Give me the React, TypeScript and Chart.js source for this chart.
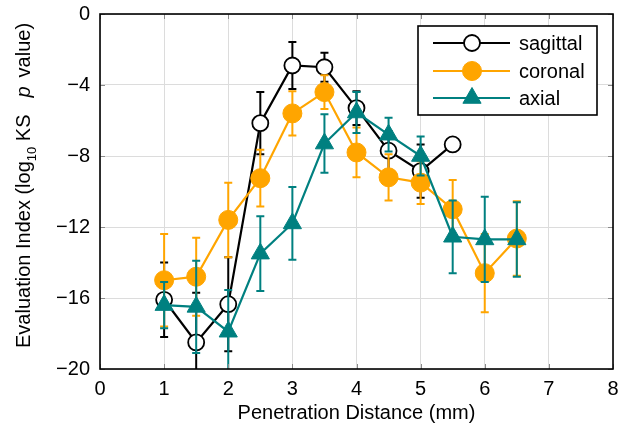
import React, { useEffect, useRef } from 'react';
import { Chart, registerables } from 'chart.js';

Chart.register(...registerables);

// ---- data ----
const distances = [1, 1.5, 2, 2.5, 3, 3.5, 4, 4.5, 5, 5.5, 6, 6.5];

const sagittalMean = [-16.1, -18.5, -16.35, -6.15, -2.9, -3.0, -5.3, -7.7, -8.85, -7.35];
const sagittalErr = [2.1, 2.8, 2.65, 1.75, 1.32, 0.82, 0.95, 1.1, 1.5, 0];

const coronalMean = [-15.0, -14.8, -11.6, -9.25, -5.6, -4.4, -7.8, -9.2, -9.5, -11.0, -14.6, -12.65];
const coronalErr = [2.6, 2.2, 2.1, 1.6, 1.25, 0.95, 1.4, 1.3, 1.2, 1.65, 2.2, 2.1];

const axialMean = [-16.4, -16.5, -17.9, -13.5, -11.8, -7.3, -5.55, -6.8, -8.0, -12.55, -12.7, -12.7];
const axialErr = [1.3, 2.6, 2.35, 2.1, 2.05, 1.65, 1.15, 0.95, 1.1, 2.05, 2.4, 2.1];

const seriesNames = ['sagittal', 'coronal', 'axial'];
const xTitle = 'Penetration Distance (mm)';
const xRange = [0, 8];
const yRange = [-20, 0];
const xStep = 1;
const yStep = 4;

const FONT = '"Liberation Sans", Arial, Helvetica, sans-serif';

const COLORS = ['#000000', '#FFA500', '#008080'];
const means = [sagittalMean, coronalMean, axialMean];
const errs = [sagittalErr, coronalErr, axialErr];

const pointCfg = [
  { style: 'circle', radius: 8, fill: '#ffffff', bw: 1.8 },
  { style: 'circle', radius: 9.5, fill: COLORS[1], bw: 1 },
  { style: 'triangle', radius: 10.5, fill: COLORS[2], bw: 1 },
];

function drawMarker(ctx: CanvasRenderingContext2D, i: number, x: number, y: number) {
  const c = pointCfg[i];
  ctx.save();
  ctx.beginPath();
  if (c.style === 'circle') {
    ctx.arc(x, y, c.radius, 0, Math.PI * 2);
  } else {
    const r = c.radius;
    let a = 0;
    ctx.moveTo(x + Math.sin(a) * r, y - Math.cos(a) * r);
    a += (2 * Math.PI) / 3;
    ctx.lineTo(x + Math.sin(a) * r, y - Math.cos(a) * r);
    a += (2 * Math.PI) / 3;
    ctx.lineTo(x + Math.sin(a) * r, y - Math.cos(a) * r);
    ctx.closePath();
  }
  ctx.fillStyle = c.fill;
  ctx.fill();
  ctx.lineWidth = c.bw;
  ctx.strokeStyle = COLORS[i];
  ctx.stroke();
  ctx.restore();
}

const errorBarPlugin = {
  id: 'errorBars',
  beforeDatasetDraw(chart: any, args: any) {
    const i = args.index;
    const e = errs[i];
    const m = means[i];
    const { ctx, chartArea } = chart;
    const xs = chart.scales.x;
    const ys = chart.scales.y;
    ctx.save();
    ctx.beginPath();
    ctx.rect(chartArea.left, chartArea.top, chartArea.right - chartArea.left, chartArea.bottom - chartArea.top);
    ctx.clip();
    ctx.strokeStyle = COLORS[i];
    ctx.lineWidth = 2;
    for (let k = 0; k < m.length; k++) {
      if (!e[k]) continue;
      const px = xs.getPixelForValue(distances[k]);
      const y1 = ys.getPixelForValue(m[k] + e[k]);
      const y2 = ys.getPixelForValue(m[k] - e[k]);
      ctx.beginPath();
      ctx.moveTo(px, y1);
      ctx.lineTo(px, y2);
      ctx.moveTo(px - 4, y1);
      ctx.lineTo(px + 4, y1);
      ctx.moveTo(px - 4, y2);
      ctx.lineTo(px + 4, y2);
      ctx.stroke();
    }
    ctx.restore();
  },
};

const framePlugin = {
  id: 'frame',
  afterDraw(chart: any) {
    const { ctx, chartArea } = chart;
    const { left, right, top, bottom } = chartArea;
    const xs = chart.scales.x;
    const ys = chart.scales.y;
    ctx.save();
    // inward ticks
    ctx.strokeStyle = '#8a8a8a';
    ctx.lineWidth = 1;
    for (let v = xRange[0]; v <= xRange[1]; v += xStep) {
      const px = Math.round(xs.getPixelForValue(v)) + 0.5;
      ctx.beginPath();
      ctx.moveTo(px, bottom);
      ctx.lineTo(px, bottom - 5);
      ctx.moveTo(px, top);
      ctx.lineTo(px, top + 5);
      ctx.stroke();
    }
    for (let v = yRange[0]; v <= yRange[1]; v += yStep) {
      const py = Math.round(ys.getPixelForValue(v)) + 0.5;
      ctx.beginPath();
      ctx.moveTo(left, py);
      ctx.lineTo(left + 5, py);
      ctx.moveTo(right, py);
      ctx.lineTo(right - 5, py);
      ctx.stroke();
    }
    // box
    ctx.strokeStyle = '#000';
    ctx.lineWidth = 1.6;
    ctx.strokeRect(left, top, right - left, bottom - top);

    // legend
    const lx = 418, ly = 26, lw = 179, lh = 89;
    ctx.fillStyle = '#fff';
    ctx.fillRect(lx, ly, lw, lh);
    ctx.strokeStyle = '#000';
    ctx.lineWidth = 1.6;
    ctx.strokeRect(lx, ly, lw, lh);
    const rows = [43, 71, 98];
    ctx.font = `20px ${FONT}`;
    ctx.textBaseline = 'middle';
    ctx.textAlign = 'left';
    for (let i = 0; i < 3; i++) {
      const ry = rows[i];
      ctx.strokeStyle = COLORS[i];
      ctx.lineWidth = 2;
      ctx.beginPath();
      ctx.moveTo(433, ry);
      ctx.lineTo(510, ry);
      ctx.stroke();
      drawMarker(ctx, i, 472, ry);
      ctx.fillStyle = '#000';
      ctx.fillText(seriesNames[i], 519, ry + 1);
    }

    // y-axis title with subscript and italic
    ctx.translate(30, 348);
    ctx.rotate(-Math.PI / 2);
    ctx.fillStyle = '#000';
    ctx.textBaseline = 'alphabetic';
    const parts: any[] = [
      { t: 'Evaluation Index (log', f: `20px ${FONT}`, dy: 0 },
      { t: '10', f: `13px ${FONT}`, dy: 6 },
      { t: ' KS', f: `20px ${FONT}`, dy: 0 },
      { gap: 17 },
      { t: 'p', f: `italic 20px ${FONT}`, dy: 0 },
      { gap: 9 },
      { t: 'value)', f: `20px ${FONT}`, dy: 0 },
    ];
    let cx = 0;
    for (const p of parts) {
      if (p.gap) {
        cx += p.gap;
        continue;
      }
      ctx.font = p.f;
      ctx.fillText(p.t, cx, p.dy);
      cx += ctx.measureText(p.t).width;
    }
    ctx.restore();
  },
};

export default function App() {
  const ref = useRef<HTMLCanvasElement | null>(null);
  useEffect(() => {
    if (!ref.current) return;
    Chart.defaults.font.family = FONT;
    const datasets = seriesNames.map((name, i) => ({
      label: name,
      data: means[i].map((v, k) => ({ x: distances[k], y: v })),
      borderColor: COLORS[i],
      backgroundColor: pointCfg[i].fill,
      borderWidth: 2.2,
      pointStyle: pointCfg[i].style,
      pointRadius: pointCfg[i].radius,
      pointHoverRadius: pointCfg[i].radius,
      pointBackgroundColor: pointCfg[i].fill,
      pointBorderColor: COLORS[i],
      pointBorderWidth: pointCfg[i].bw,
      fill: false,
      tension: 0,
      order: 3 - i,
    }));
    const chart = new Chart(ref.current, {
      type: 'line',
      data: { datasets },
      options: {
        responsive: false,
        animation: false,
        events: [],
        layout: { padding: { left: 0, right: 15, top: 14, bottom: 0 } },
        plugins: { legend: { display: false }, tooltip: { enabled: false } },
        scales: {
          x: {
            type: 'linear',
            min: xRange[0],
            max: xRange[1],
            border: { display: false },
            grid: { color: '#dcdcdc', lineWidth: 1, drawTicks: false },
            ticks: {
              stepSize: xStep,
              color: '#000',
              padding: 8,
              font: { size: 20, family: FONT },
              maxRotation: 0,
            },
            title: {
              display: true,
              text: xTitle,
              color: '#000',
              font: { size: 20, family: FONT },
              padding: { top: 0, bottom: 3 },
            },
            afterFit: (s: any) => {
              s.height = 59;
              s.paddingLeft = 0;
              s.paddingRight = 0;
            },
          },
          y: {
            type: 'linear',
            min: yRange[0],
            max: yRange[1],
            border: { display: false },
            grid: { color: '#dcdcdc', lineWidth: 1, drawTicks: false },
            ticks: {
              stepSize: yStep,
              color: '#000',
              padding: 10,
              font: { size: 20, family: FONT },
              callback: (v: any) => String(v).replace('-', '\u2212'),
            },
            afterFit: (s: any) => {
              s.width = 100;
              s.paddingTop = 0;
              s.paddingBottom = 0;
            },
          },
        },
      },
      plugins: [errorBarPlugin, framePlugin],
    } as any);
    return () => chart.destroy();
  }, []);
  return (
    <div style={{ position: 'absolute', left: 0, top: 0, width: 628, height: 428, background: '#fff' }}>
      <canvas ref={ref} width={628} height={428} style={{ display: 'block' }} />
    </div>
  );
}
